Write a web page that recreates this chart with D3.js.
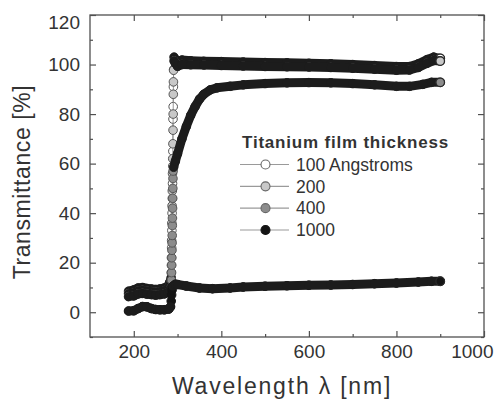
<!DOCTYPE html>
<html>
<head>
<meta charset="utf-8">
<script src="https://cdn.jsdelivr.net/npm/d3@7"></script>
<style>
  html, body { margin: 0; padding: 0; background: #fff; }
  svg { display: block; font-family: "Liberation Sans", Arial, sans-serif; }
</style>
</head>
<body>
<div id="chart"></div>
<script>
// ---- data ----
const xTicks = [200, 400, 600, 800, 1000];
const xMinor = [300, 500, 700, 900];
const yTicks = [0, 20, 40, 60, 80, 100, 120];
const yMinor = [-10, 10, 30, 50, 70, 90, 110];

const seriesNames = ['100 Angstroms', '200', '400', '1000'];
const seriesFills = ['#ffffff', '#c8c8c8', '#8c8c8c', '#141414'];
const legendTitle = 'Titanium film thickness';

// [wavelength nm, transmittance %]
const t100 = [
  [188, 8.5], [200, 9], [210, 9.8], [220, 10], [230, 9.6], [240, 9.4], [250, 9.2], [260, 9.4],
  [270, 9.8], [278, 10.5], [282, 12], [285.5, 14], [286, 19], [286.5, 26], [287, 33],
  [287.5, 40], [288, 46], [288.5, 52], [289, 59], [289.3, 65], [289.6, 78], [290, 83],
  [290.5, 91], [291, 98], [292, 103], [295, 102], [300, 101], [310, 101.8], [330, 101.5],
  [360, 101.3], [400, 101.2], [450, 101], [500, 100.8], [550, 100.7], [600, 100.5],
  [650, 100.3], [700, 100], [750, 99.6], [800, 99.2], [830, 99.2], [850, 100.3],
  [870, 102], [885, 103], [900, 102.5]
];
const t200 = [
  [188, 7.5], [200, 7.8], [210, 8.5], [220, 8.8], [230, 8.5], [240, 8.3], [250, 8.1], [260, 8.3],
  [270, 8.6], [278, 9.5], [283, 11], [285, 12], [285.5, 16], [286, 22], [286.5, 29], [287, 36],
  [287.5, 43], [288, 49], [288.5, 56], [289, 62], [289.4, 68], [289.7, 73.5], [290, 80],
  [290.3, 88], [290.6, 93], [291, 97.7], [292, 101.5], [295, 100.5], [300, 99.3],
  [310, 100], [330, 99.9], [360, 99.8], [400, 99.6], [450, 99.4], [500, 99.2], [550, 99.1],
  [600, 99], [650, 98.8], [700, 98.5], [750, 98.1], [800, 97.7], [830, 97.8], [850, 98.8],
  [870, 100.5], [885, 101.6], [900, 101.4]
];
const t400 = [
  [188, 6.3], [200, 6.6], [210, 7.4], [220, 7.6], [230, 7.3], [240, 7.1], [250, 6.9], [260, 7.1],
  [270, 7.4], [278, 8], [282, 8.8], [285.5, 10], [286, 13], [286.3, 16], [286.6, 19],
  [286.9, 22], [287.2, 25], [287.5, 28], [287.8, 31], [288, 35], [288.3, 38], [288.6, 42],
  [288.9, 46], [289.2, 50], [289.5, 54], [289.8, 57], [291, 58.5], [295, 61], [300, 64],
  [310, 70], [320, 75], [330, 79.5], [340, 83], [350, 86], [360, 88], [375, 89.8],
  [390, 90.6], [420, 91.2], [450, 91.8], [500, 92.3], [550, 92.6], [600, 92.7], [650, 92.6],
  [700, 92.3], [750, 91.8], [800, 91.2], [830, 91.2], [860, 92], [880, 92.8], [900, 92.8]
];
const t1000 = [
  [188, 0.5], [200, 0.6], [210, 1.5], [220, 2.3], [230, 2.2], [240, 1.5], [250, 1.1],
  [260, 1], [270, 1], [280, 1.3], [284, 2.2], [285.5, 4.5], [286.5, 7], [287.5, 9],
  [289, 10.5], [295, 11.3], [300, 11.2], [320, 10.6], [350, 9.8], [380, 9.5], [420, 9.8],
  [450, 10.2], [500, 10.5], [550, 10.7], [600, 10.9], [650, 11], [700, 11.2], [750, 11.5],
  [800, 11.8], [850, 12.2], [880, 12.5], [900, 12.5]
];
const seriesData = [t100, t200, t400, t1000];

// ---- layout ----
const W = 494, H = 399;
const mLeft = 90, mRight = 484, mTop = 15, mBottom = 337;

const svg = d3.select('#chart').append('svg')
  .attr('width', W)
  .attr('height', H)
  .attr('viewBox', `0 0 ${W} ${H}`);

const x = d3.scaleLinear().domain([100, 1000]).range([mLeft, mRight]);
const y = d3.scaleLinear().domain([-10, 120]).range([mBottom, mTop]);

const axisColor = '#505050';
const textColor = '#333';

function styleAxis(g) {
  g.select('.domain').remove();
  g.selectAll('.tick line').attr('stroke', axisColor).attr('stroke-width', 1.2);
  g.selectAll('.tick text')
    .attr('fill', textColor)
    .attr('font-size', 19)
    .attr('font-family', '"Liberation Sans", Arial, sans-serif');
}

// major + minor ticks, pointing inward on all four sides
const xAxisG = svg.append('g').attr('transform', `translate(0,${mBottom})`)
  .call(d3.axisBottom(x).tickValues(xTicks).tickSize(-6).tickPadding(8).tickFormat(d3.format('d')))
  .call(styleAxis);
// last label sits against the page edge, as in the original
xAxisG.selectAll('.tick').filter(d => d === 1000).select('text')
  .attr('text-anchor', 'end').attr('x', W - 1 - mRight);

svg.append('g').attr('transform', `translate(0,${mBottom})`)
  .call(d3.axisBottom(x).tickValues(xMinor).tickSize(-3).tickFormat(''))
  .call(styleAxis);
svg.append('g').attr('transform', `translate(0,${mTop})`)
  .call(d3.axisTop(x).tickValues(xTicks).tickSize(-6).tickFormat(''))
  .call(styleAxis);
svg.append('g').attr('transform', `translate(0,${mTop})`)
  .call(d3.axisTop(x).tickValues(xMinor).tickSize(-3).tickFormat(''))
  .call(styleAxis);
const yAxisG = svg.append('g').attr('transform', `translate(${mLeft},0)`)
  .call(d3.axisLeft(y).tickValues(yTicks).tickSize(-6).tickPadding(10).tickFormat(d3.format('d')))
  .call(styleAxis);
yAxisG.selectAll('.tick').filter(d => d === 120).select('text').attr('y', 7);

svg.append('g').attr('transform', `translate(${mLeft},0)`)
  .call(d3.axisLeft(y).tickValues(yMinor).tickSize(-3).tickFormat(''))
  .call(styleAxis);
svg.append('g').attr('transform', `translate(${mRight},0)`)
  .call(d3.axisRight(y).tickValues(yTicks).tickSize(-6).tickFormat(''))
  .call(styleAxis);
svg.append('g').attr('transform', `translate(${mRight},0)`)
  .call(d3.axisRight(y).tickValues(yMinor).tickSize(-3).tickFormat(''))
  .call(styleAxis);

svg.append('rect')
  .attr('x', mLeft).attr('y', mTop)
  .attr('width', mRight - mLeft).attr('height', mBottom - mTop)
  .attr('fill', 'none').attr('stroke', axisColor).attr('stroke-width', 1.3);

// axis titles
svg.append('text')
  .attr('x', 282).attr('y', 394)
  .attr('text-anchor', 'middle')
  .attr('font-size', 23).attr('letter-spacing', 1.8)
  .attr('fill', textColor)
  .text('Wavelength λ [nm]');
svg.append('text')
  .attr('transform', 'translate(30,182) rotate(-90)')
  .attr('text-anchor', 'middle')
  .attr('font-size', 23).attr('letter-spacing', 0.6)
  .attr('fill', textColor)
  .text('Transmittance [%]');

// ---- series ----
// The measured spectra are so dense that the markers merge into a dark band;
// draw the band along shallow segments and leave the steep edge as separate markers.
const bandColor = '#1c1c1c';
const plot = svg.append('g');
const line = d3.line().x(d => x(d[0])).y(d => y(d[1]));

seriesData.forEach((data, i) => {
  const g = plot.append('g');
  g.append('path')
    .attr('d', line(data))
    .attr('fill', 'none')
    .attr('stroke', '#8a8a8a')
    .attr('stroke-width', 0.9);

  g.selectAll('circle.pt')
    .data(data)
    .join('circle')
    .attr('class', 'pt')
    .attr('cx', d => x(d[0]))
    .attr('cy', d => y(d[1]))
    .attr('r', 4.3)
    .attr('fill', seriesFills[i])
    .attr('stroke', i === 3 ? '#141414' : '#555')
    .attr('stroke-width', 1);

  const segs = d3.pairs(data).filter(([a, b]) => {
    const dx = Math.abs(x(b[0]) - x(a[0]));
    const dy = Math.abs(y(b[1]) - y(a[1]));
    return dy <= 4 * dx;
  });
  g.selectAll('line.band')
    .data(segs)
    .join('line')
    .attr('class', 'band')
    .attr('x1', d => x(d[0][0])).attr('y1', d => y(d[0][1]))
    .attr('x2', d => x(d[1][0])).attr('y2', d => y(d[1][1]))
    .attr('stroke', bandColor)
    .attr('stroke-width', 9)
    .attr('stroke-linecap', 'round');

  const last = data[data.length - 1];
  g.append('circle')
    .attr('cx', x(last[0])).attr('cy', y(last[1]))
    .attr('r', 4.3)
    .attr('fill', seriesFills[i])
    .attr('stroke', '#2a2a2a')
    .attr('stroke-width', 1.3);
});

// ---- legend ----
const legend = svg.append('g');
legend.append('text')
  .attr('x', 242).attr('y', 148)
  .attr('font-size', 17).attr('font-weight', 'bold').attr('letter-spacing', 0.8)
  .attr('fill', textColor)
  .text(legendTitle);

const rowY = d3.scalePoint().domain(seriesNames).range([164.5, 230]);
seriesNames.forEach((name, i) => {
  const ry = rowY(name);
  legend.append('line')
    .attr('x1', 240).attr('x2', 289).attr('y1', ry).attr('y2', ry)
    .attr('stroke', '#9a9a9a').attr('stroke-width', 1.2);
  legend.append('circle')
    .attr('cx', 265.5).attr('cy', ry).attr('r', 4.5)
    .attr('fill', seriesFills[i])
    .attr('stroke', i === 3 ? '#141414' : '#666')
    .attr('stroke-width', 1.1);
  legend.append('text')
    .attr('x', 296).attr('y', ry).attr('dy', '0.36em')
    .attr('font-size', 17.5)
    .attr('fill', textColor)
    .text(name);
});
</script>
</body>
</html>
